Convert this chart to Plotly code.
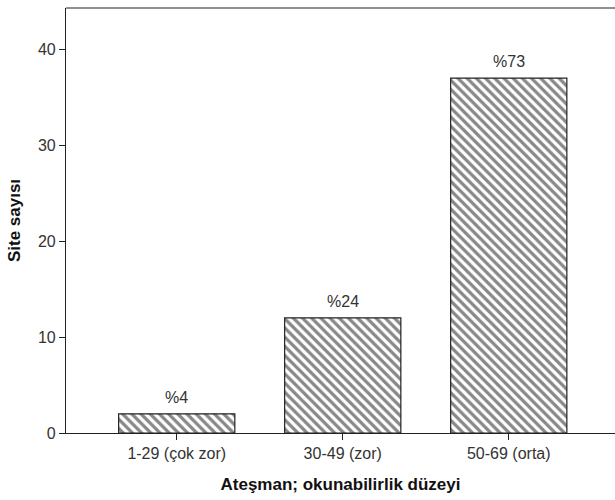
import plotly.graph_objects as go

categories = ["1-29 (çok zor)", "30-49 (zor)", "50-69 (orta)"]
counts = [2, 12, 37]
labels = ["%4", "%24", "%73"]

font_family = "Liberation Sans, Arial, sans-serif"
positions = list(range(len(categories)))

fig = go.Figure()
fig.add_trace(go.Bar(
    x=positions,
    y=counts,
    width=0.70,
    hoverinfo="skip",
    marker=dict(
        color="white",
        line=dict(color="#222", width=1.2),
        pattern=dict(shape="\\", size=6.5, solidity=0.5, fgcolor="#111", bgcolor="white"),
    ),
))
for xi, c, lab in zip(positions, counts, labels):
    fig.add_annotation(x=xi, y=c, text=lab, showarrow=False, yanchor="bottom", yshift=6,
                       font=dict(family=font_family, size=16, color="#333"))

# top frame line of the plot area
fig.add_shape(type="line", xref="paper", yref="paper", x0=0, x1=1, y0=1, y1=1,
              line=dict(color="#222", width=1.2))

fig.update_layout(
    width=615, height=500,
    margin=dict(l=66, r=0, t=8, b=67),
    paper_bgcolor="white", plot_bgcolor="white",
    showlegend=False,
    font=dict(family=font_family, size=16, color="#333"),
)
fig.update_xaxes(
    tickmode="array", tickvals=positions, ticktext=categories,
    range=[-0.667, 2.64], automargin=False,
    showline=True, linecolor="#222", linewidth=1.2,
    ticks="outside", ticklen=6, tickcolor="#222", tickwidth=1.2,
    showgrid=False, zeroline=False,
    tickfont=dict(family=font_family, size=16, color="#333"),
    title=dict(text="<b>Ateşman; okunabilirlik düzeyi</b>", font=dict(family=font_family, size=17, color="#111"), standoff=16),
)
fig.update_yaxes(
    range=[0, 44.3], automargin=False,
    tickvals=[0, 10, 20, 30, 40],
    showline=True, linecolor="#222", linewidth=1.2,
    ticks="outside", ticklen=6, tickcolor="#222", tickwidth=1.2,
    showgrid=False, zeroline=False,
    tickfont=dict(family=font_family, size=16, color="#333"),
    title=dict(text="<b>Site sayısı</b>", font=dict(family=font_family, size=17, color="#111"), standoff=12),
)

fig.write_html("out.html", config={"displayModeBar": False},
               post_script="document.body.style.margin='0';document.body.style.overflow='hidden';")
